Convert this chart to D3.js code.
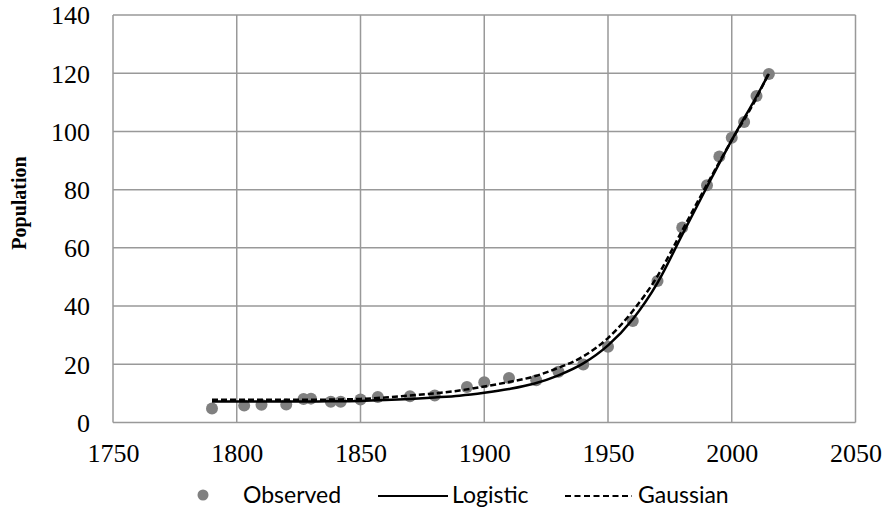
<!DOCTYPE html>
<html>
<head>
<meta charset="utf-8">
<script src="https://cdn.jsdelivr.net/npm/d3@7"></script>
<style>
  html, body { margin: 0; padding: 0; background: #fff; }
  svg { display: block; }
</style>
</head>
<body>
<svg id="chart" width="882" height="512"></svg>
<script>
// Observed population (millions)
const obsYears = [1790, 1803, 1810, 1820, 1827, 1830, 1838, 1842, 1850, 1857, 1870, 1880, 1893, 1900,
                  1910, 1921, 1930, 1940, 1950, 1960, 1970, 1980, 1990, 1995, 2000, 2005, 2010, 2015];
const obsValues = [4.8, 5.8, 6.1, 6.2, 8.1, 8.2, 7.1, 7.1, 7.9, 8.8, 9.0, 9.3, 12.2, 13.8,
                   15.3, 14.5, 17.4, 19.9, 26.0, 34.9, 48.6, 67.0, 81.5, 91.4, 97.8, 103.2, 112.2, 119.7];

// Fitted model curves
const fitYears = [1790, 1800, 1810, 1820, 1830, 1840, 1850, 1860, 1870, 1880, 1890, 1900,
                  1910, 1920, 1930, 1940, 1950, 1960, 1970, 1980, 1990, 2000, 2010, 2015];
const logisticValues = [7.2, 7.2, 7.2, 7.2, 7.2, 7.3, 7.4, 7.7, 8.1, 8.6, 9.2, 10.2,
                        11.5, 13.3, 16.2, 20.3, 26.5, 35.5, 48.0, 64.5, 81.0, 97.0, 112.0, 119.8];
const gaussianValues = [7.8, 7.8, 7.8, 7.8, 7.8, 7.9, 8.1, 8.6, 9.3, 10.0, 11.0, 12.4,
                        13.9, 15.8, 18.8, 22.7, 29.0, 38.3, 50.3, 66.0, 81.8, 97.0, 111.5, 120.2];

const xTicks = [1750, 1800, 1850, 1900, 1950, 2000, 2050];
const yTicks = [0, 20, 40, 60, 80, 100, 120, 140];
const yTitle = "Population";
const legendLabels = ["Observed", "Logistic", "Gaussian"];

const svg = d3.select("#chart");
const plot = { left: 113, right: 855.5, top: 15, bottom: 422.5 };

const x = d3.scaleLinear().domain([1750, 2050]).range([plot.left, plot.right]);
const y = d3.scaleLinear().domain([0, 140]).range([plot.bottom, plot.top]);

const gridColor = "#999999";
const serif = "Liberation Serif";
const sans = "Lato";

// Gridlines
const grid = svg.append("g");
grid.selectAll("line.v").data(xTicks).join("line")
  .attr("x1", d => x(d)).attr("x2", d => x(d))
  .attr("y1", plot.top).attr("y2", plot.bottom)
  .attr("stroke", gridColor).attr("stroke-width", 1.5);
grid.selectAll("line.h").data(yTicks).join("line")
  .attr("x1", plot.left).attr("x2", plot.right)
  .attr("y1", d => y(d)).attr("y2", d => y(d))
  .attr("stroke", gridColor).attr("stroke-width", 1.5);

// Axes (labels only)
const xAxis = d3.axisBottom(x).tickValues(xTicks).tickFormat(d3.format("d")).tickSize(0).tickPadding(21);
const yAxis = d3.axisLeft(y).tickValues(yTicks).tickFormat(d3.format("d")).tickSize(0).tickPadding(23);

const gx = svg.append("g").attr("class", "x-axis").attr("transform", `translate(0,${plot.bottom})`).call(xAxis);
const gy = svg.append("g").attr("class", "y-axis").attr("transform", `translate(${plot.left},0)`).call(yAxis);
[gx, gy].forEach(g => {
  g.attr("font-family", serif).attr("font-size", 26);
  g.select(".domain").remove();
  g.selectAll("text")
    .style("font-family", serif)
    .style("font-size", "26px")
    .style("fill", "#000");
});
gy.selectAll("text").attr("dy", "0.34em");

// Y axis title
svg.append("text")
  .attr("transform", "translate(26,203) rotate(-90)")
  .attr("text-anchor", "middle")
  .style("font-family", serif).style("font-weight", "bold").style("font-size", "20px")
  .text(yTitle);

// Observed points
svg.append("g").selectAll("circle").data(obsYears).join("circle")
  .attr("cx", d => x(d))
  .attr("cy", (d, i) => y(obsValues[i]))
  .attr("r", 6)
  .attr("fill", "#808080");

// Model curves
const line = d3.line()
  .x(d => x(d[0])).y(d => y(d[1]))
  .curve(d3.curveMonotoneX);

svg.append("path")
  .datum(fitYears.map((yr, i) => [yr, logisticValues[i]]))
  .attr("d", line).attr("fill", "none")
  .attr("stroke", "#000").attr("stroke-width", 2.5);

svg.append("path")
  .datum(fitYears.map((yr, i) => [yr, gaussianValues[i]]))
  .attr("d", line).attr("fill", "none")
  .attr("stroke", "#000").attr("stroke-width", 2.5)
  .attr("stroke-dasharray", "6,3");

// Legend
const ly = 495;
const legendText = (sel) => sel.style("font-family", sans).style("font-size", "23px").style("fill", "#000");
svg.append("circle").attr("cx", 203).attr("cy", ly).attr("r", 5.5).attr("fill", "#808080");
svg.append("text").attr("x", 243).attr("y", ly).attr("dy", "0.35em").call(legendText).text(legendLabels[0]);
svg.append("line").attr("x1", 378).attr("x2", 448).attr("y1", ly + 1).attr("y2", ly + 1)
  .attr("stroke", "#000").attr("stroke-width", 2);
svg.append("text").attr("x", 452).attr("y", ly).attr("dy", "0.35em").call(legendText).text(legendLabels[1]);
svg.append("line").attr("x1", 565).attr("x2", 632).attr("y1", ly + 1).attr("y2", ly + 1)
  .attr("stroke", "#000").attr("stroke-width", 2).attr("stroke-dasharray", "6,3.5");
svg.append("text").attr("x", 638).attr("y", ly).attr("dy", "0.35em").call(legendText).text(legendLabels[2]);
</script>
</body>
</html>
